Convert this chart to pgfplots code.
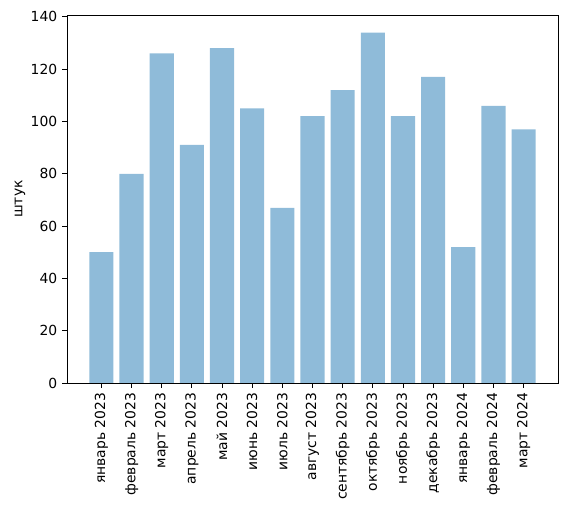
\documentclass[border=0pt]{standalone}
\usepackage{fontspec}
\setmainfont{DejaVu Sans}
\usepackage{pgfplots}
\pgfplotsset{compat=1.18}
\definecolor{barblue}{HTML}{8FBBD9}

\begin{document}
\begin{tikzpicture}[x=0.72pt,y=0.72pt]
\begin{axis}[
    at={(0,0)}, anchor=south west,
    scale only axis,
    width=353.52pt,
    height=264.96pt,
    xmin=-1.14, xmax=15.14,
    ymin=0, ymax=140.7,
    xtick={0,...,14},
    xticklabels={январь 2023,февраль 2023,март 2023,апрель 2023,май 2023,июнь 2023,июль 2023,август 2023,сентябрь 2023,октябрь 2023,ноябрь 2023,декабрь 2023,январь 2024,февраль 2024,март 2024},
    xticklabel style={rotate=90, anchor=east, font=\fontsize{10}{12}\selectfont},
    ytick={0,20,...,140},
    yticklabel style={font=\fontsize{10}{12}\selectfont},
    ylabel={штук},
    ylabel style={font=\fontsize{10}{12}\selectfont},
    ylabel shift=-3pt,
    tick align=outside,
    major tick length=3.5pt,
    tick style={black, line width=0.6pt},
    xtick pos=bottom, ytick pos=left,
    axis line style={line width=0.6pt},
    axis on top,
    /pgf/number format/assume math mode=true,
    ybar, bar width=0.8,
]
\addplot[fill=barblue, draw=none] coordinates {
    (0,50)(1,80)(2,126)(3,91)(4,128)(5,105)(6,67)(7,102)
    (8,112)(9,134)(10,102)(11,117)(12,52)(13,106)(14,97)
};
\end{axis}
\path[use as bounding box] (-67,-127) rectangle (504,383);
\end{tikzpicture}
\end{document}
